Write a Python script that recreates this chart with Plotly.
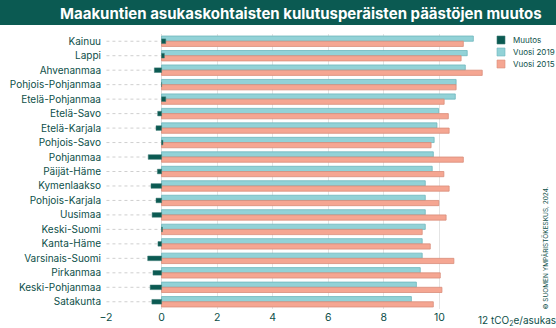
import plotly.graph_objects as go

regions = ["Kainuu", "Lappi", "Ahvenanmaa", "Pohjois-Pohjanmaa", "Etelä-Pohjanmaa",
           "Etelä-Savo", "Etelä-Karjala", "Pohjois-Savo", "Pohjanmaa", "Päijät-Häme",
           "Kymenlaakso", "Pohjois-Karjala", "Uusimaa", "Keski-Suomi", "Kanta-Häme",
           "Varsinais-Suomi", "Pirkanmaa", "Keski-Pohjanmaa", "Satakunta"]
vuosi_2019 = [11.22, 11.00, 10.93, 10.60, 10.57, 9.97, 9.91, 9.81, 9.78, 9.74,
              9.49, 9.49, 9.49, 9.49, 9.38, 9.38, 9.31, 9.17, 8.99]
vuosi_2015 = [10.86, 10.78, 11.54, 10.60, 10.17, 10.32, 10.35, 9.70, 10.86, 10.16,
              10.35, 9.98, 10.24, 9.38, 9.67, 10.52, 10.03, 10.09, 9.78]
muutos = [0.15, 0.10, -0.26, 0.0, 0.15, -0.14, -0.20, 0.05, -0.48, -0.15,
          -0.38, -0.20, -0.34, 0.03, -0.13, -0.50, -0.31, -0.41, -0.35]
x_ticks = [-2, 0, 2, 4, 6, 8, 10, 12]
x_ticktext = ["−2", "0", "2", "4", "6", "8", "10", " "]

TEAL = "#92d2d7"
TEAL_EDGE = "#6fb6bc"
SALMON = "#f5a692"
SALMON_EDGE = "#d98d7a"
DARK = "#0b5a52"
TXT = "#0d4f49"
FONT = "Inter"

fig = go.Figure()
fig.add_trace(go.Bar(y=regions, x=vuosi_2019, orientation="h", name="Vuosi 2019",
                     marker=dict(color=TEAL, line=dict(color=TEAL_EDGE, width=0.8)),
                     offset=-0.36, width=0.36, showlegend=False))
fig.add_trace(go.Bar(y=regions, x=vuosi_2015, orientation="h", name="Vuosi 2015",
                     marker=dict(color=SALMON, line=dict(color=SALMON_EDGE, width=0.8)),
                     offset=0.0, width=0.36, showlegend=False))
fig.add_trace(go.Bar(y=regions, x=muutos, orientation="h", name="Muutos",
                     marker=dict(color=DARK, line=dict(color="#3d7a74", width=0.5)),
                     offset=-0.16, width=0.32, showlegend=False))

shapes = []
for r in regions:
    shapes.append(dict(type="line", xref="x", yref="y", x0=-2.2, x1=0, y0=r, y1=r,
                       line=dict(color="#cfcfcf", width=1, dash="dot"), layer="below"))
# title banner
shapes.append(dict(type="rect", xref="paper", yref="paper", x0=-1, x1=2,
                   ysizemode="pixel", yanchor=1, y0=9, y1=60,
                   fillcolor=DARK, line=dict(width=0), layer="above"))

# manual legend
legend_items = [("Muutos", DARK, "#3d7a74"), ("Vuosi 2019", TEAL, TEAL_EDGE), ("Vuosi 2015", SALMON, SALMON_EDGE)]
annotations = []
for i, (name, col, edge) in enumerate(legend_items):
    top = -2 - 12 * i
    shapes.append(dict(type="rect", xref="paper", yref="paper",
                       xsizemode="pixel", xanchor=1, x0=2, x1=10,
                       ysizemode="pixel", yanchor=1, y0=top, y1=top - 8,
                       fillcolor=col, line=dict(color=edge, width=0.6)))
    annotations.append(dict(xref="paper", yref="paper", x=1, y=1, xanchor="left", yanchor="middle",
                            xshift=16, yshift=top - 4, text=name, showarrow=False,
                            font=dict(family=FONT, size=8, color=TXT)))

annotations.append(dict(xref="paper", yref="paper", x=0.5, y=1, xanchor="center", yanchor="middle",
                        yshift=21, text="<b>Maakuntien asukaskohtaisten kulutusperäisten päästöjen muutos</b>",
                        showarrow=False, font=dict(family=FONT, size=15, color="white")))
annotations.append(dict(xref="x", yref="paper", x=12, y=0, xanchor="left", yanchor="top",
                        xshift=-19, yshift=-3, text="12 tCO<sub>2</sub>e/asukas", showarrow=False,
                        font=dict(family=FONT, size=10, color=TXT)))
annotations.append(dict(xref="paper", yref="paper", x=1, y=0, xanchor="center", yanchor="bottom",
                        xshift=50, yshift=-3, textangle=-90, text="© SUOMEN YMPÄRISTÖKESKUS, 2024.",
                        showarrow=False, font=dict(family=FONT, size=6.5, color=TXT)))

fig.update_layout(
    width=556, height=328,
    margin=dict(l=106, r=61, t=34, b=19),
    paper_bgcolor="white", plot_bgcolor="white",
    barmode="overlay",
    shapes=shapes, annotations=annotations,
    font=dict(family=FONT, color=TXT),
    xaxis=dict(range=[-2, 12], tickvals=x_ticks, ticktext=x_ticktext, automargin=False,
               showgrid=True, gridcolor="#e4e4e4", gridwidth=1,
               zeroline=True, zerolinecolor="#dcdcdc", zerolinewidth=1,
               showline=False, ticks="", tickfont=dict(family=FONT, size=10.5, color=TXT)),
    yaxis=dict(categoryorder="array", categoryarray=regions, autorange="reversed",
               showgrid=False, ticks="", showline=False, ticklabelstandoff=4, automargin=False,
               tickfont=dict(family=FONT, size=10, color=TXT)),
    showlegend=False,
)

fig.write_html("out.html")
